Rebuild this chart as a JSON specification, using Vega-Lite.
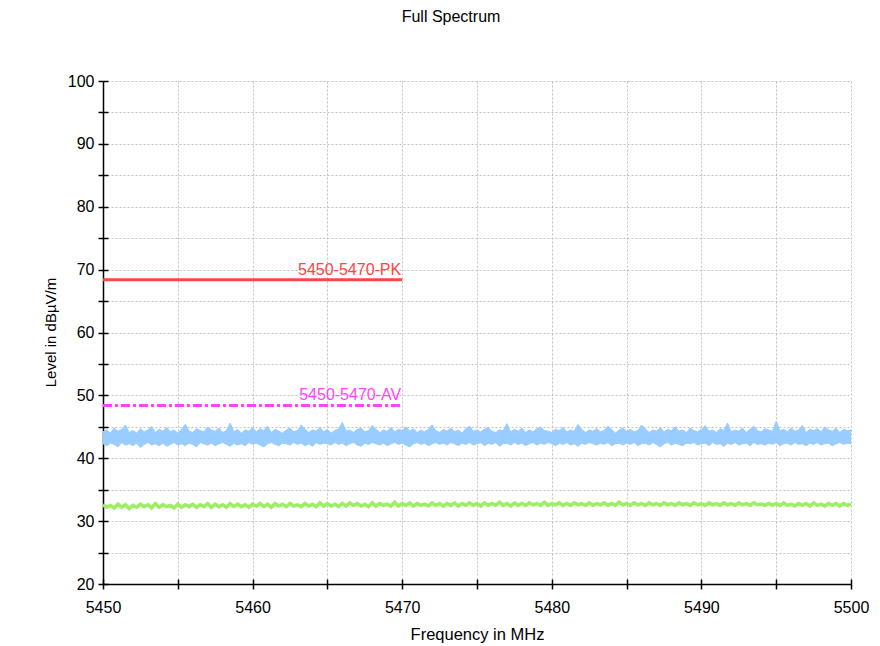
{
  "$schema": "https://vega.github.io/schema/vega-lite/v6.json",
  "width": 748,
  "height": 503,
  "autosize": {"type": "none"},
  "padding": {"left": 103, "top": 81, "right": 29, "bottom": 62},
  "background": "white",
  "title": {"text": "Full Spectrum", "fontSize": 16, "fontWeight": "normal", "font": "Liberation Sans", "color": "#000000", "anchor": "middle", "dx": -26, "offset": 48},
  "config": {
    "view": {"stroke": null},
    "font": "Liberation Sans",
    "axis": {
      "domainColor": "#000000", "domainWidth": 1.5,
      "tickColor": "#000000", "tickWidth": 1.5, "tickSize": 5,
      "gridColor": "#c0c0c0", "gridDash": [2, 2], "gridWidth": 1, "gridOpacity": 1,
      "labelFont": "Liberation Sans", "labelFontSize": 16, "labelColor": "#000000", "labelFlush": false,
      "titleFont": "Liberation Sans", "titleFontSize": 15, "titleFontWeight": "normal", "titleColor": "#000000"
    }
  },
  "datasets": {
    "trace": [
      {"f":5450,"h":44.2,"l":42.3,"g":32.6},{"f":5450.25,"h":44.5,"l":42.0,"g":32.2},{"f":5450.5,"h":44.0,"l":42.4,"g":32.5},{"f":5450.75,"h":44.8,"l":42.2,"g":32.1},
      {"f":5451,"h":44.3,"l":41.8,"g":32.7},{"f":5451.25,"h":44.6,"l":42.5,"g":32.2},{"f":5451.5,"h":45.3,"l":42.1,"g":32.6},{"f":5451.75,"h":44.1,"l":42.3,"g":32.0},
      {"f":5452,"h":44.4,"l":42.0,"g":32.5},{"f":5452.25,"h":44.0,"l":42.4,"g":32.2},{"f":5452.5,"h":44.7,"l":41.7,"g":32.7},{"f":5452.75,"h":44.2,"l":42.2,"g":32.3},
      {"f":5453,"h":44.5,"l":42.5,"g":32.6},{"f":5453.25,"h":45.0,"l":42.1,"g":32.1},{"f":5453.5,"h":44.1,"l":42.3,"g":32.8},{"f":5453.75,"h":44.6,"l":42.0,"g":32.2},
      {"f":5454,"h":44.3,"l":42.4,"g":32.6},{"f":5454.25,"h":44.9,"l":41.9,"g":32.3},{"f":5454.5,"h":44.2,"l":42.2,"g":32.5},{"f":5454.75,"h":44.5,"l":42.5,"g":32.1},
      {"f":5455,"h":44.0,"l":42.1,"g":32.7},{"f":5455.25,"h":44.6,"l":42.3,"g":32.2},{"f":5455.5,"h":45.4,"l":42.0,"g":32.6},{"f":5455.75,"h":44.3,"l":42.4,"g":32.3},
      {"f":5456,"h":44.1,"l":42.2,"g":32.7},{"f":5456.25,"h":44.7,"l":41.8,"g":32.2},{"f":5456.5,"h":44.4,"l":42.5,"g":32.6},{"f":5456.75,"h":44.2,"l":42.3,"g":32.3},
      {"f":5457,"h":45.0,"l":42.1,"g":32.8},{"f":5457.25,"h":44.5,"l":42.4,"g":32.2},{"f":5457.5,"h":44.3,"l":42.0,"g":32.7},{"f":5457.75,"h":44.8,"l":42.3,"g":32.3},
      {"f":5458,"h":44.1,"l":42.5,"g":32.6},{"f":5458.25,"h":44.4,"l":42.2,"g":32.2},{"f":5458.5,"h":45.6,"l":41.9,"g":32.8},{"f":5458.75,"h":44.2,"l":42.4,"g":32.3},
      {"f":5459,"h":44.6,"l":42.1,"g":32.7},{"f":5459.25,"h":44.0,"l":42.3,"g":32.3},{"f":5459.5,"h":44.5,"l":42.0,"g":32.6},{"f":5459.75,"h":44.3,"l":42.5,"g":32.2},
      {"f":5460,"h":44.9,"l":42.2,"g":32.7},{"f":5460.25,"h":44.2,"l":42.4,"g":32.4},{"f":5460.5,"h":44.7,"l":42.1,"g":32.8},{"f":5460.75,"h":44.4,"l":41.8,"g":32.3},
      {"f":5461,"h":45.1,"l":42.3,"g":32.7},{"f":5461.25,"h":44.1,"l":42.5,"g":32.2},{"f":5461.5,"h":44.6,"l":42.2,"g":32.8},{"f":5461.75,"h":44.3,"l":42.0,"g":32.4},
      {"f":5462,"h":44.0,"l":42.4,"g":32.7},{"f":5462.25,"h":44.5,"l":42.3,"g":32.3},{"f":5462.5,"h":44.8,"l":42.1,"g":32.8},{"f":5462.75,"h":44.2,"l":42.5,"g":32.4},
      {"f":5463,"h":44.4,"l":42.2,"g":32.6},{"f":5463.25,"h":45.3,"l":42.4,"g":32.3},{"f":5463.5,"h":44.6,"l":42.0,"g":32.8},{"f":5463.75,"h":44.1,"l":42.3,"g":32.4},
      {"f":5464,"h":44.5,"l":41.9,"g":32.7},{"f":5464.25,"h":44.3,"l":42.5,"g":32.3},{"f":5464.5,"h":44.9,"l":42.2,"g":32.9},{"f":5464.75,"h":44.2,"l":42.4,"g":32.4},
      {"f":5465,"h":44.6,"l":42.3,"g":32.8},{"f":5465.25,"h":44.0,"l":42.1,"g":32.4},{"f":5465.5,"h":44.4,"l":42.5,"g":32.7},{"f":5465.75,"h":44.7,"l":42.2,"g":32.3},
      {"f":5466,"h":45.7,"l":42.4,"g":32.8},{"f":5466.25,"h":44.3,"l":42.0,"g":32.4},{"f":5466.5,"h":44.5,"l":42.3,"g":32.9},{"f":5466.75,"h":44.1,"l":42.5,"g":32.5},
      {"f":5467,"h":44.6,"l":42.1,"g":32.8},{"f":5467.25,"h":44.8,"l":41.9,"g":32.4},{"f":5467.5,"h":44.2,"l":42.4,"g":32.7},{"f":5467.75,"h":44.4,"l":42.2,"g":32.3},
      {"f":5468,"h":45.2,"l":42.5,"g":32.9},{"f":5468.25,"h":44.6,"l":42.3,"g":32.4},{"f":5468.5,"h":44.1,"l":42.1,"g":32.8},{"f":5468.75,"h":44.5,"l":42.4,"g":32.5},
      {"f":5469,"h":44.3,"l":42.0,"g":32.7},{"f":5469.25,"h":44.9,"l":42.3,"g":32.4},{"f":5469.5,"h":44.2,"l":42.5,"g":33.0},{"f":5469.75,"h":44.6,"l":42.2,"g":32.4},
      {"f":5470,"h":44.4,"l":42.4,"g":32.8},{"f":5470.25,"h":45.0,"l":42.1,"g":32.5},{"f":5470.5,"h":44.3,"l":41.8,"g":32.9},{"f":5470.75,"h":44.7,"l":42.3,"g":32.4},
      {"f":5471,"h":44.1,"l":42.5,"g":32.8},{"f":5471.25,"h":44.5,"l":42.2,"g":32.5},{"f":5471.5,"h":44.2,"l":42.4,"g":32.7},{"f":5471.75,"h":44.6,"l":42.0,"g":32.4},
      {"f":5472,"h":45.3,"l":42.3,"g":32.9},{"f":5472.25,"h":44.4,"l":42.5,"g":32.5},{"f":5472.5,"h":44.1,"l":42.2,"g":32.8},{"f":5472.75,"h":44.6,"l":42.4,"g":32.4},
      {"f":5473,"h":44.3,"l":42.1,"g":32.8},{"f":5473.25,"h":44.8,"l":42.5,"g":32.5},{"f":5473.5,"h":44.2,"l":42.3,"g":32.9},{"f":5473.75,"h":44.5,"l":42.0,"g":32.4},
      {"f":5474,"h":44.0,"l":42.4,"g":32.8},{"f":5474.25,"h":44.7,"l":42.2,"g":32.5},{"f":5474.5,"h":45.1,"l":42.5,"g":32.9},{"f":5474.75,"h":44.3,"l":42.1,"g":32.5},
      {"f":5475,"h":44.5,"l":42.3,"g":32.8},{"f":5475.25,"h":44.2,"l":42.5,"g":32.4},{"f":5475.5,"h":44.6,"l":42.0,"g":32.9},{"f":5475.75,"h":44.9,"l":42.4,"g":32.5},
      {"f":5476,"h":44.3,"l":42.2,"g":32.8},{"f":5476.25,"h":44.1,"l":42.5,"g":32.5},{"f":5476.5,"h":44.5,"l":41.9,"g":33.0},{"f":5476.75,"h":44.4,"l":42.3,"g":32.5},
      {"f":5477,"h":45.5,"l":42.4,"g":32.8},{"f":5477.25,"h":44.2,"l":42.1,"g":32.4},{"f":5477.5,"h":44.6,"l":42.5,"g":32.9},{"f":5477.75,"h":44.3,"l":42.2,"g":32.5},
      {"f":5478,"h":44.8,"l":42.4,"g":32.8},{"f":5478.25,"h":44.1,"l":42.0,"g":32.5},{"f":5478.5,"h":44.5,"l":42.3,"g":32.9},{"f":5478.75,"h":44.2,"l":42.5,"g":32.6},
      {"f":5479,"h":44.7,"l":42.1,"g":32.8},{"f":5479.25,"h":45.0,"l":42.4,"g":32.5},{"f":5479.5,"h":44.4,"l":42.2,"g":33.0},{"f":5479.75,"h":44.3,"l":42.5,"g":32.5},
      {"f":5480,"h":44.1,"l":42.3,"g":32.8},{"f":5480.25,"h":44.6,"l":42.0,"g":32.6},{"f":5480.5,"h":44.4,"l":42.4,"g":32.9},{"f":5480.75,"h":44.9,"l":42.2,"g":32.5},
      {"f":5481,"h":44.2,"l":42.5,"g":32.8},{"f":5481.25,"h":44.5,"l":42.1,"g":32.5},{"f":5481.5,"h":44.3,"l":42.3,"g":32.9},{"f":5481.75,"h":45.4,"l":41.9,"g":32.6},
      {"f":5482,"h":44.6,"l":42.4,"g":32.8},{"f":5482.25,"h":44.1,"l":42.2,"g":32.5},{"f":5482.5,"h":44.5,"l":42.5,"g":32.9},{"f":5482.75,"h":44.3,"l":42.3,"g":32.5},
      {"f":5483,"h":44.7,"l":42.1,"g":32.8},{"f":5483.25,"h":44.2,"l":42.4,"g":32.6},{"f":5483.5,"h":44.4,"l":42.2,"g":32.9},{"f":5483.75,"h":45.1,"l":42.5,"g":32.5},
      {"f":5484,"h":44.6,"l":42.0,"g":32.8},{"f":5484.25,"h":44.0,"l":42.3,"g":32.5},{"f":5484.5,"h":44.5,"l":42.4,"g":33.0},{"f":5484.75,"h":44.8,"l":42.1,"g":32.6},
      {"f":5485,"h":44.3,"l":42.4,"g":32.8},{"f":5485.25,"h":44.6,"l":42.2,"g":32.5},{"f":5485.5,"h":44.2,"l":42.5,"g":32.9},{"f":5485.75,"h":44.4,"l":42.0,"g":32.6},
      {"f":5486,"h":45.3,"l":42.3,"g":32.8},{"f":5486.25,"h":44.7,"l":42.4,"g":32.5},{"f":5486.5,"h":44.1,"l":42.1,"g":32.9},{"f":5486.75,"h":44.5,"l":42.5,"g":32.6},
      {"f":5487,"h":44.3,"l":42.2,"g":32.8},{"f":5487.25,"h":44.9,"l":41.8,"g":32.5},{"f":5487.5,"h":44.2,"l":42.3,"g":32.9},{"f":5487.75,"h":44.6,"l":42.5,"g":32.6},
      {"f":5488,"h":44.4,"l":42.1,"g":32.8},{"f":5488.25,"h":45.0,"l":42.4,"g":32.5},{"f":5488.5,"h":44.3,"l":42.2,"g":32.9},{"f":5488.75,"h":44.5,"l":42.0,"g":32.6},
      {"f":5489,"h":44.1,"l":42.4,"g":32.8},{"f":5489.25,"h":44.8,"l":42.3,"g":32.5},{"f":5489.5,"h":44.4,"l":42.5,"g":32.9},{"f":5489.75,"h":44.2,"l":42.1,"g":32.6},
      {"f":5490,"h":44.6,"l":42.3,"g":32.8},{"f":5490.25,"h":45.2,"l":42.4,"g":32.5},{"f":5490.5,"h":44.3,"l":42.0,"g":32.9},{"f":5490.75,"h":44.5,"l":42.5,"g":32.6},
      {"f":5491,"h":44.1,"l":42.2,"g":32.8},{"f":5491.25,"h":44.7,"l":42.3,"g":32.5},{"f":5491.5,"h":44.4,"l":41.9,"g":32.9},{"f":5491.75,"h":45.6,"l":42.4,"g":32.6},
      {"f":5492,"h":44.2,"l":42.2,"g":32.8},{"f":5492.25,"h":44.5,"l":42.5,"g":32.5},{"f":5492.5,"h":44.3,"l":42.1,"g":32.9},{"f":5492.75,"h":44.8,"l":42.3,"g":32.6},
      {"f":5493,"h":44.1,"l":42.4,"g":32.8},{"f":5493.25,"h":44.6,"l":42.0,"g":32.5},{"f":5493.5,"h":45.1,"l":42.5,"g":32.9},{"f":5493.75,"h":44.4,"l":42.2,"g":32.6},
      {"f":5494,"h":44.2,"l":42.3,"g":32.7},{"f":5494.25,"h":44.7,"l":42.1,"g":32.5},{"f":5494.5,"h":44.5,"l":42.4,"g":32.8},{"f":5494.75,"h":44.3,"l":42.2,"g":32.5},
      {"f":5495,"h":45.9,"l":42.5,"g":32.8},{"f":5495.25,"h":44.4,"l":42.0,"g":32.5},{"f":5495.5,"h":44.6,"l":42.3,"g":32.9},{"f":5495.75,"h":44.2,"l":42.4,"g":32.5},
      {"f":5496,"h":44.8,"l":42.1,"g":32.7},{"f":5496.25,"h":44.3,"l":42.5,"g":32.4},{"f":5496.5,"h":44.5,"l":42.2,"g":32.8},{"f":5496.75,"h":45.2,"l":42.3,"g":32.5},
      {"f":5497,"h":44.1,"l":42.0,"g":32.8},{"f":5497.25,"h":44.6,"l":42.4,"g":32.4},{"f":5497.5,"h":44.4,"l":42.2,"g":32.9},{"f":5497.75,"h":44.7,"l":42.5,"g":32.5},
      {"f":5498,"h":44.2,"l":42.1,"g":32.7},{"f":5498.25,"h":45.0,"l":42.3,"g":32.4},{"f":5498.5,"h":44.5,"l":42.4,"g":32.8},{"f":5498.75,"h":44.3,"l":42.0,"g":32.5},
      {"f":5499,"h":44.8,"l":42.3,"g":32.8},{"f":5499.25,"h":44.1,"l":42.5,"g":32.4},{"f":5499.5,"h":44.6,"l":42.2,"g":32.8},{"f":5499.75,"h":44.4,"l":42.4,"g":32.5},
      {"f":5500,"h":44.5,"l":42.3,"g":32.7}
    ],
    "limits": [
      {"f": 5450, "v": 68.4, "k": "PK"},
      {"f": 5470, "v": 68.4, "k": "PK"},
      {"f": 5450, "v": 48.4, "k": "AV"},
      {"f": 5470, "v": 48.4, "k": "AV"}
    ],
    "labels": [
      {"f": 5470, "v": 68.4, "k": "PK", "label": "5450-5470-PK"},
      {"f": 5470, "v": 48.4, "k": "AV", "label": "5450-5470-AV"}
    ]
  },
  "layer": [
    {
      "data": {"name": "trace"},
      "mark": {"type": "area", "color": "#99ccff", "stroke": "#99ccff", "strokeWidth": 1, "opacity": 1, "clip": true},
      "encoding": {
        "x": {"field": "f", "type": "quantitative",
          "scale": {"domain": [5450, 5500], "nice": false, "zero": false},
          "axis": {"orient": "bottom", "values": [5450,5455,5460,5465,5470,5475,5480,5485,5490,5495,5500],
            "labelExpr": "datum.value % 10 === 0 ? datum.value : ''", "labelPadding": 10,
            "title": "Frequency in MHz", "titleFontSize": 16.5, "titleY": 50, "titleBaseline": "middle", "grid": true}},
        "y": {"field": "h", "type": "quantitative",
          "scale": {"domain": [20, 100], "nice": false, "zero": false},
          "axis": {"orient": "left", "values": [20,25,30,35,40,45,50,55,60,65,70,75,80,85,90,95,100],
            "labelExpr": "datum.value % 10 === 0 ? datum.value : ''", "labelPadding": 4,
            "title": "Level in dBµV/m", "titleX": -53, "titleY": 251, "titleBaseline": "middle", "grid": true}},
        "y2": {"field": "l"}
      }
    },
    {
      "data": {"name": "trace"},
      "mark": {"type": "line", "color": "#9cee62", "strokeWidth": 3.5, "clip": true},
      "encoding": {
        "x": {"field": "f", "type": "quantitative",
          "axis": {"orient": "top", "offset": -503, "values": [5450,5455,5460,5465,5470,5475,5480,5485,5490,5495,5500],
            "domain": false, "labels": false, "grid": false, "title": null}},
        "y": {"field": "g", "type": "quantitative",
          "axis": {"orient": "right", "offset": -748, "values": [20,25,30,35,40,45,50,55,60,65,70,75,80,85,90,95,100],
            "domain": false, "labels": false, "grid": false, "title": null}}
      }
    },
    {
      "data": {"name": "limits"},
      "transform": [{"filter": "datum.k === 'PK'"}],
      "mark": {"type": "line", "color": "#ff4444", "strokeWidth": 3},
      "encoding": {
        "x": {"field": "f", "type": "quantitative", "axis": null},
        "y": {"field": "v", "type": "quantitative", "axis": null}
      }
    },
    {
      "data": {"name": "limits"},
      "transform": [{"filter": "datum.k === 'AV'"}],
      "mark": {"type": "line", "color": "#ff44ff", "strokeWidth": 3, "strokeDash": [9, 3, 3, 3]},
      "encoding": {
        "x": {"field": "f", "type": "quantitative", "axis": null},
        "y": {"field": "v", "type": "quantitative", "axis": null}
      }
    },
    {
      "data": {"name": "labels"},
      "mark": {"type": "text", "align": "right", "baseline": "alphabetic", "dy": -5, "dx": -1, "fontSize": 16, "font": "Liberation Sans"},
      "encoding": {
        "x": {"field": "f", "type": "quantitative", "axis": null},
        "y": {"field": "v", "type": "quantitative", "axis": null},
        "text": {"field": "label"},
        "color": {"field": "k", "type": "nominal", "scale": {"domain": ["PK", "AV"], "range": ["#ff4444", "#ff44ff"]}, "legend": null}
      }
    }
  ],
  "resolve": {"axis": {"x": "independent", "y": "independent"}}
}
